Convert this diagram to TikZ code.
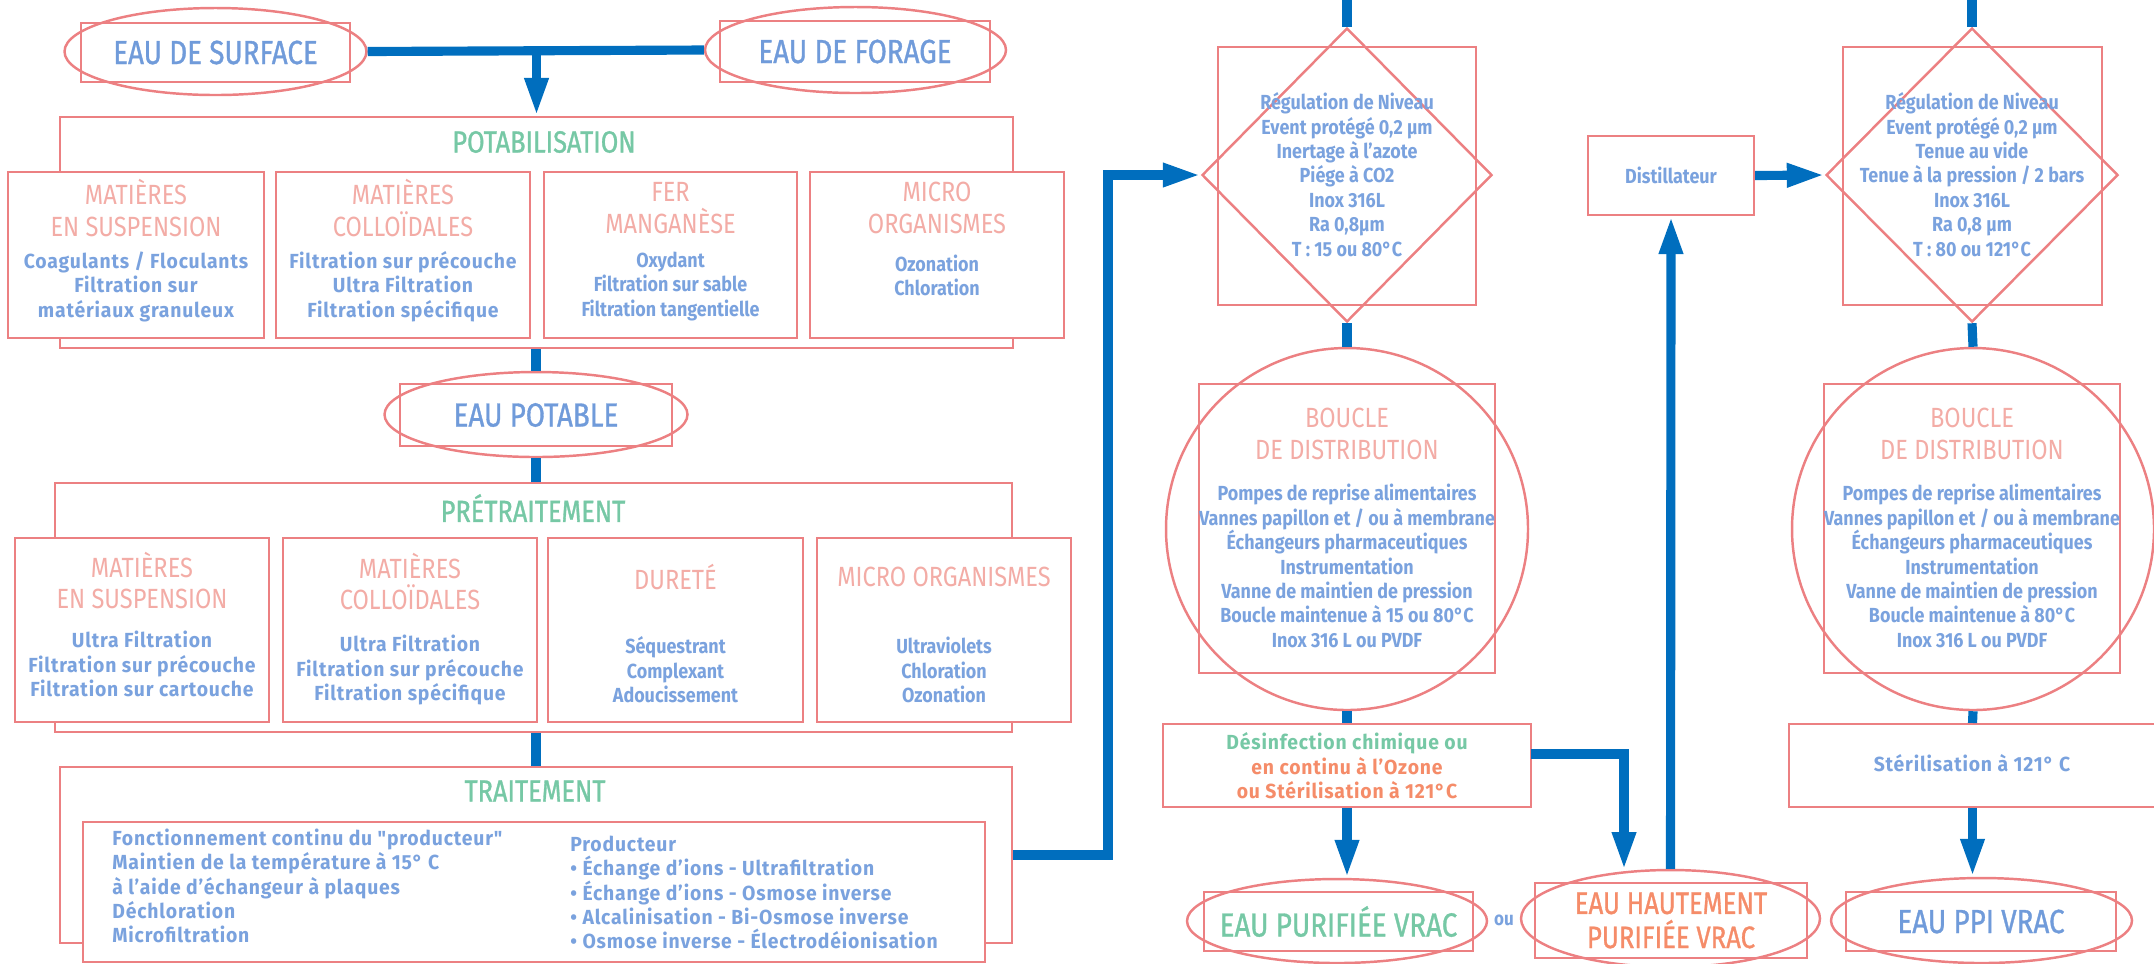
\documentclass[tikz,border=0pt]{standalone}
\usepackage{fontspec}
\setmainfont{Fira Sans}
\newfontfamily\hdf{Fira Sans}[FakeStretch=0.85]
\newfontfamily\bgf{Fira Sans}[FakeStretch=0.83,FakeBold=1]
\newfontfamily\bdf{Fira Sans}[FakeStretch=0.88]
\newfontfamily\wdf{Fira Sans}[FakeStretch=0.95,LetterSpace=4]
\usetikzlibrary{arrows.meta,shapes.geometric}
\definecolor{pipeblue}{RGB}{0,110,190}
\definecolor{rose}{RGB}{236,128,130}
\definecolor{pinktxt}{RGB}{243,172,166}
\definecolor{bluetxt}{RGB}{112,155,218}
\definecolor{bodyblue}{RGB}{122,162,222}
\definecolor{greentxt}{RGB}{118,200,165}
\definecolor{orangetxt}{RGB}{245,140,105}

\begin{document}
\begin{tikzpicture}[y=-1cm,
  pipe/.style={draw=pipeblue,line width=2.6pt},
  flow/.style={pipe,-{Triangle[length=3.8mm,width=2.2mm]}},
  cell/.style={draw=rose,line width=0.6pt,fill=white,inner sep=0pt},
  tagbox/.style={draw=rose,line width=0.7pt,inner sep=0pt},
  ring/.style={draw=rose,line width=0.7pt,ellipse,inner sep=0pt},
  bigtxt/.style={font=\bgf\fontsize{9.5}{11}\selectfont,text=bluetxt,align=center},
  titletxt/.style={font=\bgf\fontsize{8.7}{10}\selectfont,text=greentxt},
  headtxt/.style={font=\hdf\fontsize{7.9}{9}\selectfont,text=pinktxt,align=center},
  bodyc/.style={font=\bdf\bfseries\fontsize{5.8}{6.95}\selectfont,text=bodyblue,align=center},
  bodyw/.style={font=\wdf\bfseries\fontsize{5.8}{6.95}\selectfont,text=bodyblue,align=center}]
  \useasboundingbox (0,0) rectangle (21.54,9.63);

  \node[ring,minimum width=3.02cm,minimum height=0.87cm] (surfE) at (2.155,0.515) {};
  \node[tagbox,minimum width=2.69cm,minimum height=0.59cm,bigtxt] (surf) at (2.155,0.525) {EAU DE SURFACE};
  \node[ring,minimum width=3.01cm,minimum height=0.86cm] (forE) at (8.555,0.50) {};
  \node[tagbox,minimum width=2.70cm,minimum height=0.61cm,bigtxt] (for) at (8.55,0.515) {EAU DE FORAGE};

  \node[cell,minimum width=9.53cm,minimum height=2.31cm] (potab) at (5.365,2.325) {};
  \node[titletxt] (potabT) at (5.44,1.42) {POTABILISATION};
  \node[cell,minimum width=2.56cm,minimum height=1.66cm] (pa) at (1.36,2.55) {};
  \node[cell,minimum width=2.54cm,minimum height=1.66cm] (pb) at (4.03,2.55) {};
  \node[cell,minimum width=2.53cm,minimum height=1.66cm] (pc) at (6.705,2.55) {};
  \node[cell,minimum width=2.54cm,minimum height=1.66cm] (pd) at (9.37,2.55) {};
  \node[headtxt] (paH) at (1.36,2.08) {MATIÈRES\\EN SUSPENSION};
  \node[headtxt] (pbH) at (4.03,2.08) {MATIÈRES\\COLLOÏDALES};
  \node[headtxt] (pcH) at (6.705,2.08) {FER\\MANGANÈSE};
  \node[headtxt] (pdH) at (9.37,2.08) {MICRO\\ORGANISMES};
  \node[bodyw] (paB) at (1.36,2.865) {Coagulants / Floculants\\Filtration sur\\matériaux granuleux};
  \node[bodyw] (pbB) at (4.03,2.865) {Filtration sur précouche\\Ultra Filtration\\Filtration spécifique};
  \node[bodyc] (pcB) at (6.705,2.865) {Oxydant\\Filtration sur sable\\Filtration tangentielle};
  \node[bodyc] (pdB) at (9.37,2.755) {Ozonation\\Chloration};

  \node[ring,minimum width=3.03cm,minimum height=0.85cm] (potE) at (5.36,4.145) {};
  \node[tagbox,minimum width=2.72cm,minimum height=0.62cm,bigtxt] (pot) at (5.36,4.15) {EAU POTABLE};

  \node[cell,minimum width=9.57cm,minimum height=2.49cm] (pret) at (5.335,6.075) {};
  \node[titletxt] (pretT) at (5.33,5.08) {PRÉTRAITEMENT};
  \node[cell,minimum width=2.54cm,minimum height=1.84cm] (ra) at (1.42,6.30) {};
  \node[cell,minimum width=2.54cm,minimum height=1.84cm] (rb) at (4.10,6.30) {};
  \node[cell,minimum width=2.55cm,minimum height=1.84cm] (rc) at (6.755,6.30) {};
  \node[cell,minimum width=2.54cm,minimum height=1.84cm] (rd) at (9.44,6.30) {};
  \node[headtxt] (raH) at (1.42,5.805) {MATIÈRES\\EN SUSPENSION};
  \node[headtxt] (rbH) at (4.10,5.815) {MATIÈRES\\COLLOÏDALES};
  \node[headtxt] (rcH) at (6.755,5.77) {DURETÉ};
  \node[headtxt] (rdH) at (9.44,5.77) {MICRO ORGANISMES};
  \node[bodyw] (raB) at (1.42,6.64) {Ultra Filtration\\Filtration sur précouche\\Filtration sur cartouche};
  \node[bodyw] (rbB) at (4.10,6.70) {Ultra Filtration\\Filtration sur précouche\\Filtration spécifique};
  \node[bodyc] (rcB) at (6.755,6.70) {Séquestrant\\Complexant\\Adoucissement};
  \node[bodyc] (rdB) at (9.44,6.70) {Ultraviolets\\Chloration\\Ozonation};

  \node[cell,minimum width=9.52cm,minimum height=1.76cm] (trait) at (5.36,8.55) {};
  \node[titletxt] (traitT) at (5.35,7.91) {TRAITEMENT};
  \node[cell,minimum width=9.02cm,minimum height=1.40cm] (trIn) at (5.34,8.92) {};
  \node[bodyw,align=left,anchor=west] (trL) at (1.00,8.86) {Fonctionnement continu du "producteur"\\Maintien de la température à 15° C\\à l’aide d’échangeur à plaques\\Déchloration\\Microfiltration};
  \node[bodyw,align=left,anchor=west] (trR) at (5.58,8.925) {Producteur\\• Échange d’ions - Ultrafiltration\\• Échange d’ions - Osmose inverse\\• Alcalinisation - Bi-Osmose inverse\\• Osmose inverse - Électrodéionisation};

  \node[tagbox,minimum width=2.58cm,minimum height=2.58cm] (tank1) at (13.47,1.76) {};
  \node[tagbox,diamond,minimum width=2.90cm,minimum height=2.94cm] (dia1) at (13.47,1.75) {};
  \node[bodyc] (tank1T) at (13.47,1.745) {Régulation de Niveau\\Event protégé 0,2 µm\\Inertage à l’azote\\Piége à CO2\\Inox 316L\\Ra 0,8µm\\T : 15 ou 80°C};
  \coordinate (top1) at (13.47,-0.1);

  \node[tagbox,minimum width=2.96cm,minimum height=2.89cm] (loop1) at (13.47,5.285) {};
  \node[tagbox,circle,minimum size=3.62cm] (loop1C) at (13.47,5.29) {};
  \node[headtxt] (loop1H) at (13.47,4.34) {BOUCLE\\DE DISTRIBUTION};
  \node[bodyc] (loop1B) at (13.47,5.66) {Pompes de reprise alimentaires\\Vannes papillon et / ou à membrane\\Échangeurs pharmaceutiques\\Instrumentation\\Vanne de maintien de pression\\Boucle maintenue à 15 ou 80°C\\Inox 316 L ou PVDF};

  \node[cell,minimum width=3.68cm,minimum height=0.83cm] (des) at (13.47,7.655) {};
  \node[bodyw] (desT) at (13.47,7.66) {\textcolor{greentxt}{Désinfection chimique ou}\\\textcolor{orangetxt}{en continu à l’Ozone}\\\textcolor{orangetxt}{ou Stérilisation à 121°C}};
  \coordinate (desout) at (15.31,7.54);
  \coordinate (hautin) at (16.24,8.70);

  \node[ring,minimum width=3.00cm,minimum height=0.84cm] (purE) at (13.37,9.21) {};
  \node[tagbox,minimum width=2.69cm,minimum height=0.59cm,bigtxt,text=greentxt] (pur) at (13.385,9.215) {EAU PURIFIÉE VRAC};
  \node[font=\bdf\bfseries\fontsize{5.5}{6}\selectfont,text=bodyblue] (ou) at (15.04,9.20) {ou};
  \node[ring,minimum width=2.99cm,minimum height=0.97cm] (hautE) at (16.705,9.185) {};
  \node[tagbox,minimum width=2.72cm,minimum height=0.75cm,bigtxt,text=orangetxt,font=\bgf\fontsize{8.8}{9.7}\selectfont] (haut) at (16.71,9.205) {EAU HAUTEMENT\\PURIFIÉE VRAC};

  \node[cell,minimum width=1.66cm,minimum height=0.79cm,bodyc] (dist) at (16.71,1.755) {Distillateur};

  \node[tagbox,minimum width=2.59cm,minimum height=2.58cm] (tank2) at (19.725,1.76) {};
  \node[tagbox,diamond,minimum width=2.92cm,minimum height=2.94cm] (dia2) at (19.72,1.75) {};
  \node[bodyc] (tank2T) at (19.72,1.745) {Régulation de Niveau\\Event protégé 0,2 µm\\Tenue au vide\\Tenue à la pression / 2 bars\\Inox 316L\\Ra 0,8 µm\\T : 80 ou 121°C};
  \coordinate (top2) at (19.72,-0.1);

  \node[tagbox,minimum width=2.96cm,minimum height=2.89cm] (loop2) at (19.72,5.285) {};
  \node[tagbox,circle,minimum size=3.62cm] (loop2C) at (19.73,5.29) {};
  \node[headtxt] (loop2H) at (19.72,4.34) {BOUCLE\\DE DISTRIBUTION};
  \node[bodyc] (loop2B) at (19.72,5.66) {Pompes de reprise alimentaires\\Vannes papillon et / ou à membrane\\Échangeurs pharmaceutiques\\Instrumentation\\Vanne de maintien de pression\\Boucle maintenue à 80°C\\Inox 316 L ou PVDF};

  \node[cell,minimum width=3.67cm,minimum height=0.83cm] (ster) at (19.725,7.655) {};
  \node[bodyw] (sterT) at (19.72,7.63) {Stérilisation à 121° C};

  \node[ring,minimum width=3.01cm,minimum height=0.85cm] (ppiE) at (19.815,9.205) {};
  \node[tagbox,minimum width=2.70cm,minimum height=0.59cm,bigtxt] (ppi) at (19.81,9.215) {EAU PPI VRAC};

  \draw[pipe] (surfE.east) -- (forE.west);
  \draw[flow] (potab.north |- surfE.east) -- (potab.north);
  \draw[pipe] (potE.north |- potab.south) -- (potE.north);
  \draw[pipe] (potE.south) -- (potE.south |- pret.north);
  \draw[pipe] (potE.south |- pret.south) -- (potE.south |- trait.north);
  \draw[flow] (trait.east) -| (11.08,5) |- (dia1.west);
  \draw[pipe] (top1) -- (dia1.north);
  \draw[pipe] (dia1.south) -- (loop1C.north);
  \draw[pipe] (loop1C.south) -- (des.north);
  \draw[flow] (des.south) -- (des.south |- purE.north);
  \draw[flow] (desout) -| (hautin);
  \draw[flow] (hautE.north) -- (dist.south);
  \draw[flow] (dist.east) -- (dia2.west);
  \draw[pipe] (top2) -- (dia2.north);
  \draw[pipe] (dia2.south) -- (loop2C.north);
  \draw[pipe] (loop2C.south) -- (ster.north);
  \draw[flow] (ster.south) -- (ster.south |- ppiE.north);
\end{tikzpicture}
\end{document}
